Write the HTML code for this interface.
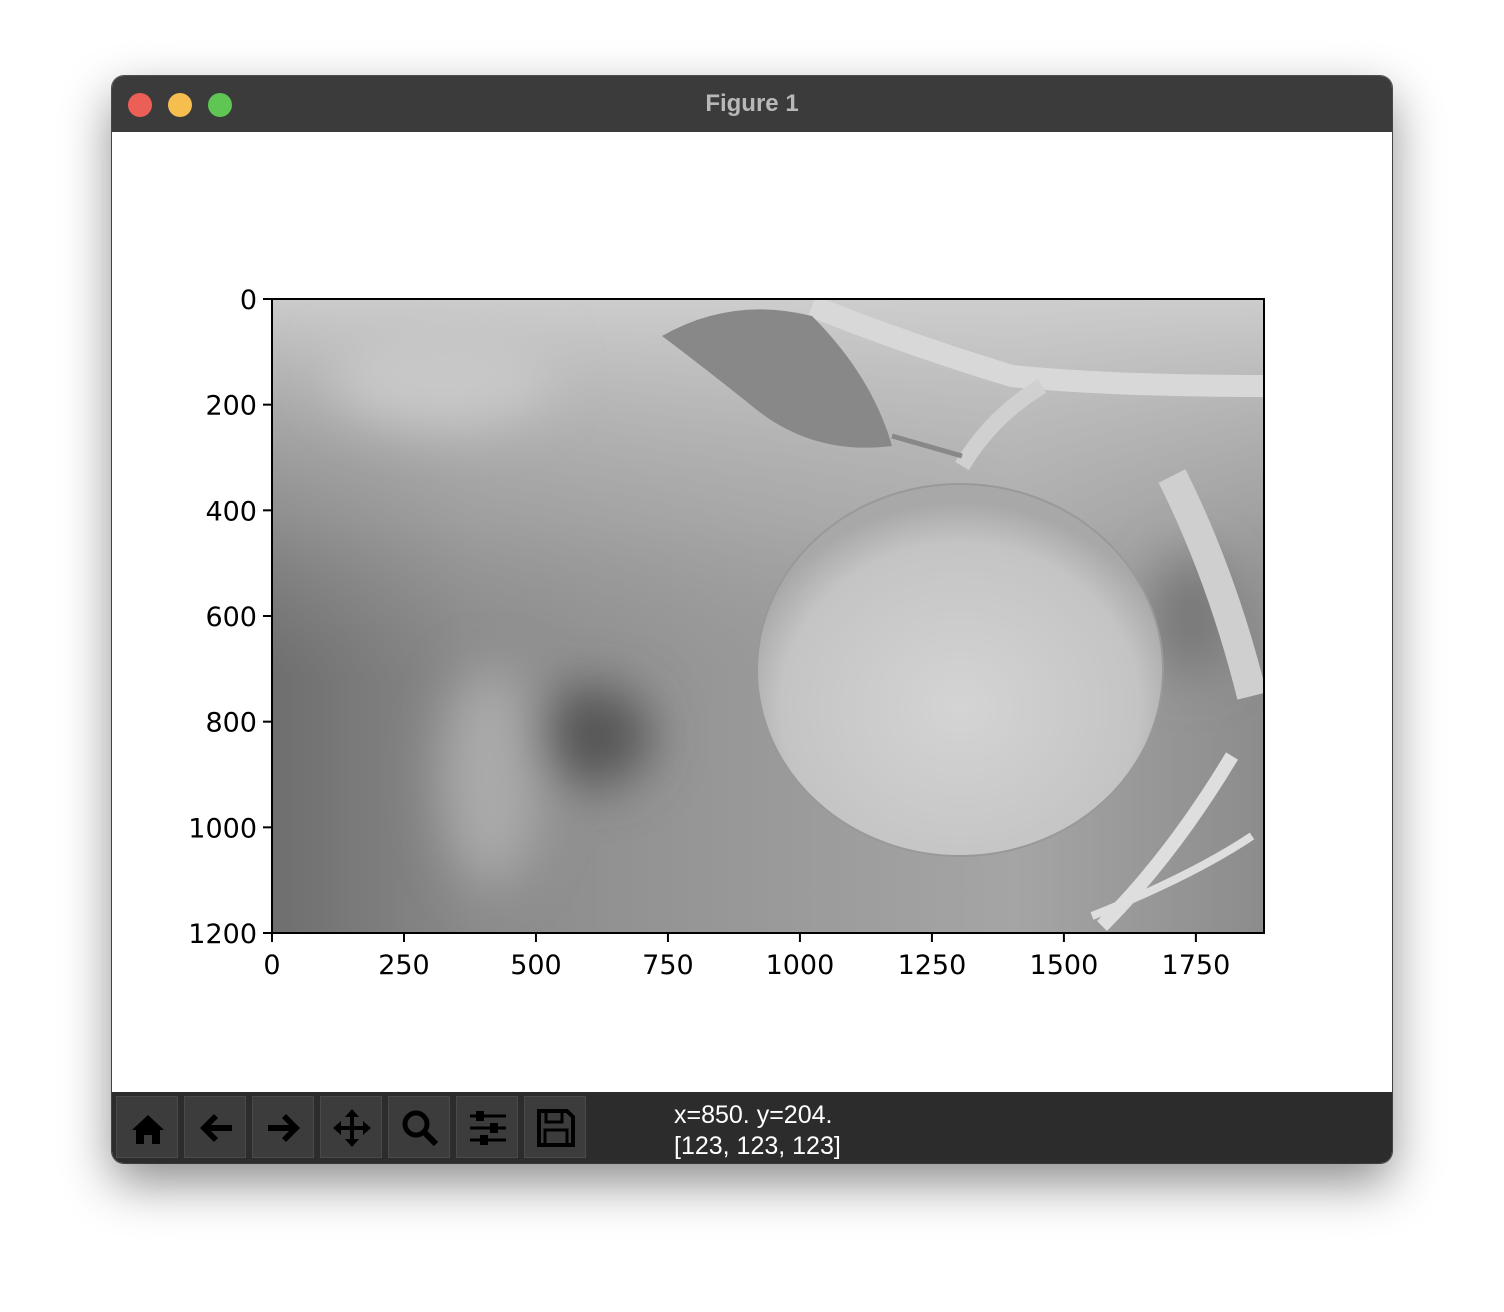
<!DOCTYPE html>
<html><head><meta charset="utf-8">
<style>
body{margin:0;width:1504px;height:1312px;background:#fff;position:relative;overflow:hidden;font-family:"Liberation Sans",sans-serif;}
#win{position:absolute;left:112px;top:76px;width:1280px;height:1087px;border-radius:12px;overflow:hidden;box-shadow:0 20px 50px rgba(0,0,0,0.45),0 0 0 1px #555;background:#fff;}
#title{position:absolute;left:0;top:0;width:1280px;height:56px;background:#3b3b3b;color:#b8b8b8;font-weight:bold;font-size:24px;text-align:center;line-height:56px;}
.dot{position:absolute;top:17px;width:24px;height:24px;border-radius:50%;}
#tb{position:absolute;left:0;top:1016px;width:1280px;height:71px;background:#2c2c2c;}
.btn{position:absolute;top:4px;width:62px;height:62px;background:#3c3c3c;border:1px solid #4a4a4a;box-sizing:border-box;}
.btn svg{position:absolute;left:11px;top:11px;}
#status{position:absolute;left:562px;top:8px;color:#fff;font-size:25px;line-height:31px;}
</style></head><body>
<div id="win">
 <div id="title">Figure 1
  <div class="dot" style="left:16px;background:#ec5f57"></div>
  <div class="dot" style="left:56px;background:#f5be4f"></div>
  <div class="dot" style="left:96px;background:#5fc653"></div>
 </div>
 <svg id="chart" width="1280" height="960" style="position:absolute;left:0;top:56px">
  <defs>
   <linearGradient id="bg" x1="0" y1="0" x2="1" y2="0">
    <stop offset="0" stop-color="#6e6e6e"/><stop offset="0.2" stop-color="#8a8a8a"/><stop offset="0.45" stop-color="#979797"/><stop offset="0.75" stop-color="#a5a5a5"/><stop offset="1" stop-color="#8c8c8c"/>
   </linearGradient>
   <linearGradient id="top" x1="0" y1="0" x2="0" y2="1">
    <stop offset="0" stop-color="#d0d0d0" stop-opacity="0.95"/><stop offset="0.35" stop-color="#bdbdbd" stop-opacity="0.4"/><stop offset="0.6" stop-color="#999" stop-opacity="0"/>
   </linearGradient>
   <radialGradient id="apple" cx="0.5" cy="0.6" r="0.55">
    <stop offset="0" stop-color="#d4d4d4"/><stop offset="0.8" stop-color="#c4c4c4"/><stop offset="1" stop-color="#a8a8a8"/>
   </radialGradient>
   <filter id="blur"><feGaussianBlur stdDeviation="25"/></filter>
   <clipPath id="clip"><rect x="160" y="243" width="992" height="634"/></clipPath>
  </defs>
  <g transform="translate(0,-76)">
  <g id="img" clip-path="url(#clip)">
   <rect x="160" y="243" width="992" height="634" fill="url(#bg)"/>
   <rect x="160" y="243" width="992" height="634" fill="url(#top)"/>
   <g filter="url(#blur)">
    <ellipse cx="480" cy="680" rx="60" ry="50" fill="#555"/>
    <ellipse cx="380" cy="720" rx="50" ry="110" fill="#aaa"/>
    <ellipse cx="330" cy="320" rx="110" ry="50" fill="#c8c8c8"/>
    <ellipse cx="1080" cy="560" rx="40" ry="60" fill="#777"/>
   </g>
   <path d="M700 250 Q800 290 900 320 Q1000 330 1152 330" stroke="#d8d8d8" stroke-width="22" fill="none"/>
   <path d="M850 410 Q880 360 930 330" stroke="#d0d0d0" stroke-width="16" fill="none"/>
   <path d="M780 380 L850 400" stroke="#888" stroke-width="5"/>
   <path d="M550 280 Q620 240 700 260 Q760 320 780 390 Q700 400 640 350 Q590 310 550 280 Z" fill="#888"/>
   <path d="M990 870 Q1060 800 1120 700" stroke="#dedede" stroke-width="14" fill="none"/>
   <path d="M980 860 Q1080 820 1140 780" stroke="#dedede" stroke-width="8" fill="none"/>
   <path d="M1060 420 Q1110 520 1140 640" stroke="#cfcfcf" stroke-width="30" fill="none"/>
   <ellipse cx="848" cy="614" rx="203" ry="186" fill="url(#apple)" stroke="#999" stroke-width="2"/>
  </g>
  </g>
  <rect x="160" y="167" width="992" height="634" fill="none" stroke="#000" stroke-width="2"/>
  <g id="xt"></g>
  <g id="yt"></g>
 </svg>
 <div id="tb">
  <div class="btn" style="left:4px"><svg width="40" height="40"><path d="M4 22 L20 7 L36 22 L32 22 L32 36 L24 36 L24 27 L16 27 L16 36 L8 36 L8 22 Z" fill="#000"/></svg></div>
  <div class="btn" style="left:72px"><svg width="40" height="40"><path d="M4 20 L18 6 L22 10 L15 17 L36 17 L36 23 L15 23 L22 30 L18 34 Z" fill="#000"/></svg></div>
  <div class="btn" style="left:140px"><svg width="40" height="40"><path d="M36 20 L22 6 L18 10 L25 17 L4 17 L4 23 L25 23 L18 30 L22 34 Z" fill="#000"/></svg></div>
  <div class="btn" style="left:208px"><svg width="40" height="40"><path d="M20 1 L27 9 L22 9 L22 18 L31 18 L31 13 L39 20 L31 27 L31 22 L22 22 L22 31 L27 31 L20 39 L13 31 L18 31 L18 22 L9 22 L9 27 L1 20 L9 13 L9 18 L18 18 L18 9 L13 9 Z" fill="#000"/></svg></div>
  <div class="btn" style="left:276px"><svg width="40" height="40"><circle cx="16" cy="16" r="11" stroke="#000" stroke-width="5" fill="none"/><path d="M24 24 L36 36" stroke="#000" stroke-width="6"/></svg></div>
  <div class="btn" style="left:344px"><svg width="40" height="40"><g stroke="#000" stroke-width="3"><path d="M2 8H38M2 20H38M2 32H38"/></g><rect x="8" y="3" width="8" height="10" fill="#000"/><rect x="22" y="15" width="8" height="10" fill="#000"/><rect x="12" y="27" width="8" height="10" fill="#000"/></svg></div>
  <div class="btn" style="left:412px"><svg width="40" height="40"><path d="M3 3 H31 L37 9 V37 H3 Z" fill="none" stroke="#000" stroke-width="4"/><rect x="10" y="3" width="16" height="11" fill="none" stroke="#000" stroke-width="3"/><rect x="9" y="22" width="22" height="15" fill="none" stroke="#000" stroke-width="3"/></svg></div>
  <div id="status">x=850. y=204.<br>[123, 123, 123]</div>
 </div>
</div>
<script>
const xTicks=[0,250,500,750,1000,1250,1500,1750];
const yTicks=[0,200,400,600,800,1000,1200];
const imgW=1879, imgH=1200;
const X0=160,X1=1152,Y0=167,Y1=801;
const sx=v=>X0+v*(X1-X0)/imgW, sy=v=>Y0+v*(Y1-Y0)/imgH;
const NS="http://www.w3.org/2000/svg";
const xt=document.getElementById('xt'), yt=document.getElementById('yt');
function mk(t,a){const e=document.createElementNS(NS,t);for(const k in a)e.setAttribute(k,a[k]);return e;}
xTicks.forEach(v=>{
 const l=mk('line',{x1:sx(v),x2:sx(v),y1:Y1,y2:Y1+9,stroke:'#000','stroke-width':2});
 
 
 xt.appendChild(l);
 const t=mk('text',{x:sx(v),y:Y1+41,'text-anchor':'middle','font-size':'27','font-family':'DejaVu Sans, Liberation Sans, sans-serif'});
 t.textContent=v;
 
 
 xt.appendChild(t);
});
yTicks.forEach(v=>{
 const l=mk('line',{x1:X0-9,x2:X0,y1:sy(v),y2:sy(v),stroke:'#000','stroke-width':2});
 
 
 yt.appendChild(l);
 const t=mk('text',{x:X0-15,y:sy(v)+10,'text-anchor':'end','font-size':'27','font-family':'DejaVu Sans, Liberation Sans, sans-serif'});
 t.textContent=v;
 
 
 yt.appendChild(t);
});
</script>
</body></html>
